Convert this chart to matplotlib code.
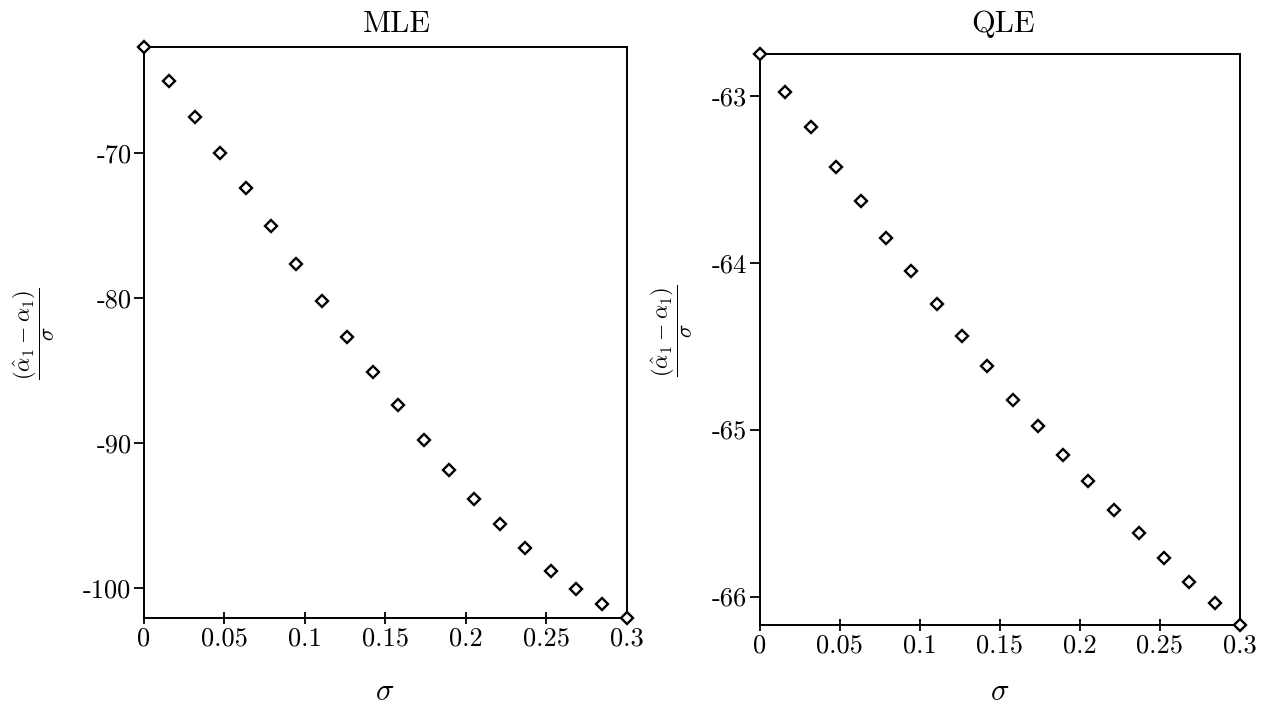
import matplotlib
matplotlib.use("Agg")
import matplotlib.pyplot as plt

plt.rcParams['font.family'] = 'serif'
plt.rcParams['font.serif'] = ['cmr10']
plt.rcParams['mathtext.fontset'] = 'cm'
plt.rcParams['axes.unicode_minus'] = False

# sigma values (20 points, 0 .. 0.3)
sigma = [0.0, 0.0158, 0.0316, 0.0474, 0.0632, 0.0789, 0.0947, 0.1105, 0.1263, 0.1421,
         0.1579, 0.1737, 0.1895, 0.2053, 0.2211, 0.2368, 0.2526, 0.2684, 0.2842, 0.3]

mle = [-62.69, -65.03, -67.52, -70.00, -72.41, -75.03, -77.66, -80.21, -82.69, -85.10,
       -87.38, -89.79, -91.86, -93.86, -95.59, -97.24, -98.83, -100.07, -101.10, -102.07]

qle = [-62.75, -62.98, -63.19, -63.43, -63.63, -63.85, -64.05, -64.25, -64.44, -64.62,
       -64.82, -64.98, -65.15, -65.31, -65.48, -65.62, -65.77, -65.91, -66.04, -66.17]

x_ticks = [0, 0.05, 0.1, 0.15, 0.2, 0.25, 0.3]
x_labels = ['0', '0.05', '0.1', '0.15', '0.2', '0.25', '0.3']
mle_ticks = [-70, -80, -90, -100]
qle_ticks = [-63, -64, -65, -66]

fig = plt.figure(figsize=(12.63, 7.09), dpi=100)
ax1 = fig.add_axes([0.114, 0.1284, 0.3824, 0.8054])
ax2 = fig.add_axes([0.6017, 0.1185, 0.380, 0.8054])


def style(ax, data, yticks, ylim):
    ax.plot(sigma, data, linestyle='none', marker='D', markersize=6,
            markerfacecolor='white', markeredgecolor='black', markeredgewidth=1.7,
            clip_on=False, zorder=5)
    ax.set_xlim(0, 0.3)
    ax.set_ylim(*ylim)
    ax.set_xticks(x_ticks)
    ax.set_xticklabels(x_labels)
    ax.set_yticks(yticks)
    ax.set_yticklabels([str(t) for t in yticks])
    ax.tick_params(axis='x', direction='inout', length=9, width=1.3, labelsize=19, pad=2)
    ax.tick_params(axis='y', direction='out', length=7, width=1.3, labelsize=19, pad=2)
    for s in ax.spines.values():
        s.set_linewidth(1.4)


style(ax1, mle, mle_ticks, (min(mle), max(mle)))
style(ax2, qle, qle_ticks, (min(qle), max(qle)))

fig.text(397 / 1263, 1 - 24 / 709, 'MLE', fontsize=22, ha='center', va='center')
fig.text(1003 / 1263, 1 - 24 / 709, 'QLE', fontsize=22, ha='center', va='center')

ylab = r'$\dfrac{(\hat{\alpha}_1-\alpha_1)}{\sigma}$'
fig.text(34 / 1263, 1 - 334 / 709, ylab, fontsize=16, rotation=90, ha='center', va='center')
fig.text(672 / 1263, 1 - 331 / 709, ylab, fontsize=16, rotation=90, ha='center', va='center')

fig.text(385 / 1263, 1 - 692 / 709, r'$\sigma$', fontsize=22, ha='center', va='center')
fig.text(1000 / 1263, 1 - 692 / 709, r'$\sigma$', fontsize=22, ha='center', va='center')

fig.savefig('out.png', dpi=100, facecolor='white')
